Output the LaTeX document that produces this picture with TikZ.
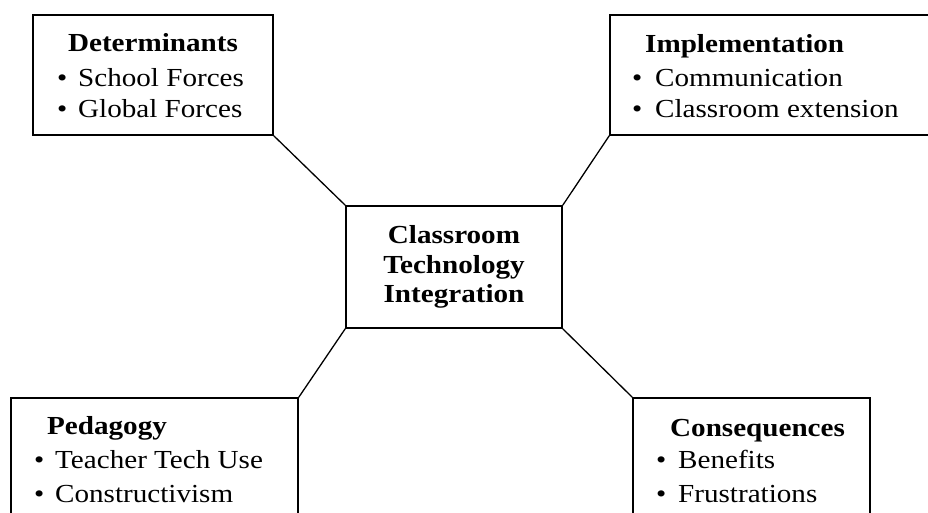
\documentclass[tikz,border=0pt]{standalone}
\usepackage{fontspec}
\setmainfont[FakeStretch=1.12]{Liberation Serif}
\begin{document}
\begin{tikzpicture}[x=1pt,y=-1pt,
  box/.style={draw,line width=1.6pt,rectangle,inner sep=0pt},
  link/.style={line width=1.3pt},
  txt/.style={inner sep=0pt,font=\fontsize{26}{30}\selectfont},
  head/.style={txt,font=\fontsize{26}{30}\selectfont\bfseries},
  item/.style={txt,anchor=base west}]
\newcommand{\bul}[1]{\makebox[#1pt][l]{•}}
\useasboundingbox (0,0) rectangle (928,513);
\clip (0,0) rectangle (928,513);
% boxes
\node[box,minimum width=240pt,minimum height=120pt] (det) at (153,75) {};
\node[box,minimum width=330pt,minimum height=120pt] (imp) at (775,75) {};
\node[box,minimum width=287pt,minimum height=132pt] (ped) at (154.5,464) {};
\node[box,minimum width=237pt,minimum height=132pt] (con) at (751.5,464) {};
\node[box,minimum width=216pt,minimum height=122pt] (ctr) at (454,267) {};
% connectors
\draw[link] (det.south east) -- (ctr.north west);
\draw[link] (imp.south west) -- (ctr.north east);
\draw[link] (ped.north east) -- (ctr.south west);
\draw[link] (con.north west) -- (ctr.south east);
% Determinants
\node[head,anchor=base] (detT) at (153,52) {Determinants};
\node[item] (det1) at (57,87) {\bul{21}School Forces};
\node[item] (det2) at (57,118) {\bul{21}Global Forces};
% Implementation
\node[head,anchor=base west] (impT) at (645,53) {Implementation};
\node[item] (imp1) at (632,87) {\bul{23}Communication};
\node[item] (imp2) at (632,118) {\bul{23}Classroom extension};
% Pedagogy
\node[head,anchor=base west] (pedT) at (47,434) {Pedagogy};
\node[item] (ped1) at (34,468) {\bul{21}Teacher Tech Use};
\node[item] (ped2) at (34,502) {\bul{21}Constructivism};
% Consequences
\node[head,anchor=base west] (conT) at (670,436) {Consequences};
\node[item] (con1) at (656,468) {\bul{22}Benefits};
\node[item] (con2) at (656,502) {\bul{22}Frustrations};
% centre
\node[head,anchor=base] (ctr1) at (454,243) {Classroom};
\node[head,anchor=base] (ctr2) at (454,273) {Technology};
\node[head,anchor=base] (ctr3) at (454,302) {Integration};
\end{tikzpicture}
\end{document}
